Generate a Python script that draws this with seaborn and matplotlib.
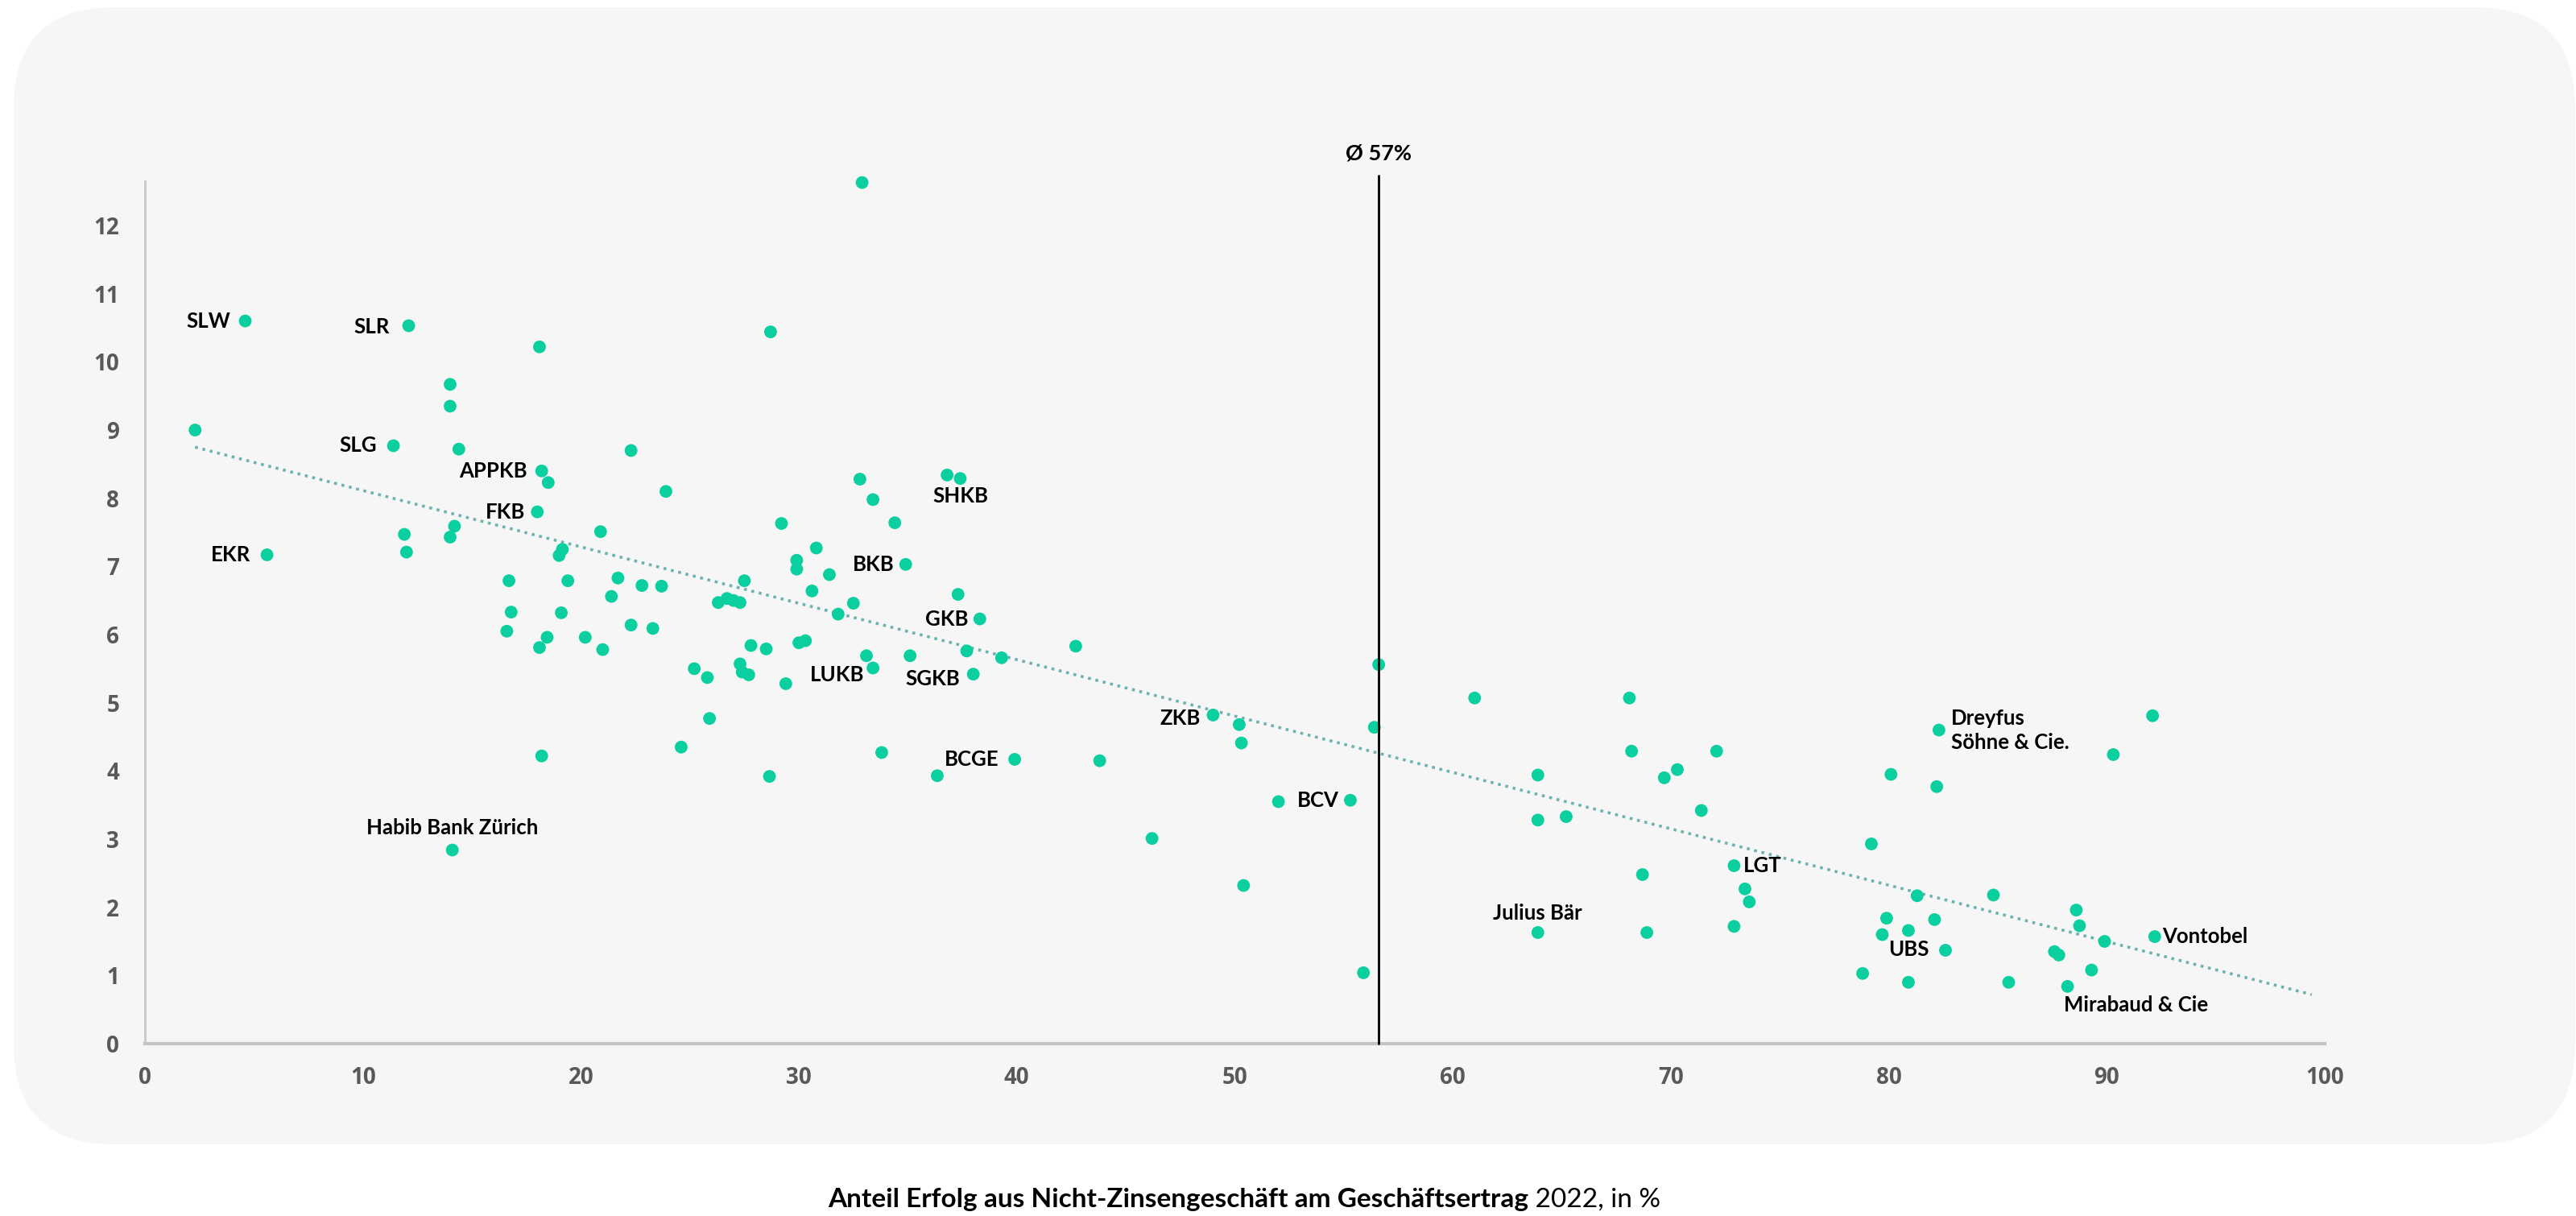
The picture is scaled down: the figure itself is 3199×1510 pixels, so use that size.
import numpy as np
import pandas as pd
import matplotlib
matplotlib.use("Agg")
import matplotlib.pyplot as plt
from matplotlib.patches import FancyBboxPatch
from matplotlib.transforms import IdentityTransform
import seaborn as sns

# share of non-interest income in operating income 2022, in %
share = [2.3, 4.6, 5.6, 11.4, 12.1, 11.9, 12.0, 14.0, 14.0, 14.4,
         14.0, 14.2, 14.1, 16.7, 16.8, 16.6, 18.0, 18.2, 18.5, 18.1,
         18.1, 18.45, 18.2, 19.0, 19.15, 19.1, 19.4, 20.2, 20.9, 21.0,
         21.4, 21.7, 22.3, 22.3, 22.8, 23.3, 23.7, 23.9, 24.6, 25.2,
         25.8, 25.9, 26.3, 26.7, 27.0, 27.3, 27.5, 27.3, 27.4, 27.7,
         27.8, 28.5, 28.65, 28.7, 29.2, 29.4, 29.9, 29.9, 30.0, 30.3,
         30.6, 30.8, 31.4, 31.8, 32.5, 32.8, 32.9, 33.1, 33.4, 33.4,
         33.8, 34.4, 34.9, 35.1, 36.35, 36.8, 37.4, 37.3, 37.7, 38.0,
         38.3, 39.3, 39.9, 42.7, 43.8, 46.2, 49.0, 50.2, 50.3, 50.4,
         52.0, 55.3, 55.9, 56.4, 56.6, 61.0, 63.9, 63.9, 63.9, 65.2,
         68.1, 68.2, 68.7, 68.9, 69.7, 70.3, 71.4, 72.1, 72.9, 72.9,
         73.4, 73.6, 78.8, 79.2, 79.7, 79.9, 80.1, 80.9, 80.9, 81.3,
         82.1, 82.2, 82.3, 82.6, 84.8, 85.5, 87.6, 87.8, 88.2, 88.6,
         88.75, 89.3, 89.9, 90.3, 92.1, 92.2]

metric = [9.00, 10.60, 7.17, 8.77, 10.53, 7.47, 7.21, 9.67, 9.35, 8.72,
          7.43, 7.59, 2.84, 6.79, 6.33, 6.05, 7.80, 8.40, 8.23, 10.22,
          5.81, 5.96, 4.22, 7.16, 7.25, 6.32, 6.79, 5.96, 7.51, 5.78,
          6.56, 6.83, 8.70, 6.14, 6.72, 6.09, 6.71, 8.10, 4.35, 5.50,
          5.37, 4.77, 6.47, 6.53, 6.50, 6.47, 6.79, 5.57, 5.45, 5.41,
          5.84, 5.79, 3.92, 10.44, 7.63, 5.28, 7.09, 6.96, 5.88, 5.91,
          6.64, 7.27, 6.88, 6.30, 6.46, 8.28, 12.63, 5.69, 7.98, 5.51,
          4.27, 7.64, 7.03, 5.69, 3.93, 8.34, 8.29, 6.59, 5.76, 5.42,
          6.23, 5.66, 4.17, 5.83, 4.15, 3.01, 4.82, 4.68, 4.41, 2.32,
          3.55, 3.57, 1.04, 4.64, 5.56, 5.07, 3.94, 3.28, 1.63, 3.33,
          5.07, 4.29, 2.48, 1.63, 3.90, 4.02, 3.42, 4.29, 2.61, 1.72,
          2.27, 2.08, 1.03, 2.93, 1.60, 1.84, 3.95, 1.66, 0.90, 2.17,
          1.82, 3.77, 4.60, 1.37, 2.18, 0.90, 1.35, 1.30, 0.84, 1.96,
          1.73, 1.08, 1.50, 4.24, 4.81, 1.57]

bank = [""] * len(share)
named = {1: "SLW", 2: "EKR", 3: "SLG", 4: "SLR", 12: "Habib Bank Zürich",
         16: "FKB", 17: "APPKB", 69: "LUKB", 72: "BKB", 76: "SHKB",
         79: "SGKB", 80: "GKB", 82: "BCGE", 86: "ZKB", 91: "BCV",
         98: "Julius Bär", 108: "LGT", 122: "Dreyfus\nSöhne & Cie.",
         123: "UBS", 128: "Mirabaud & Cie", 135: "Vontobel"}
for i, name in named.items():
    bank[i] = name

# trend line end points
trend_x = [2.3, 99.4]
trend_y = [8.75, 0.72]

avg_share = 56.6
avg_text = "Ø 57%"
x_ticks = list(range(0, 101, 10))
y_ticks = list(range(0, 13))
xlabel_bold = "Anteil Erfolg aus Nicht-Zinsengeschäft am Geschäftsertrag"
xlabel_rest = " 2022, in %"

df = pd.DataFrame({"share": share, "metric": metric, "bank": bank})

# label placement: (dx pt, dy pt, ha)
label_pos = {
    "SLW": (-13, 0, "right"), "SLR": (-17, -1, "right"), "SLG": (-15, 0, "right"),
    "EKR": (-15, 0, "right"), "APPKB": (-13, 0, "right"), "FKB": (-11, 0, "right"),
    "BKB": (-10, 0, "right"), "GKB": (-10, 0, "right"), "LUKB": (-8, -6, "right"),
    "SGKB": (-12, -4, "right"), "BCGE": (-14, 0, "right"), "ZKB": (-11, -3, "right"),
    "BCV": (-10, 0, "right"), "UBS": (-15, 1, "right"), "LGT": (8, 0, "left"),
    "Vontobel": (7, 0, "left"), "Dreyfus\nSöhne & Cie.": (11, 0, "left"),
    "Habib Bank Zürich": (0, 20, "center"), "Julius Bär": (0, 17, "center"),
    "SHKB": (0, -16, "center"), "Mirabaud & Cie": (-3, -17, "left"),
}

sns.set_theme(style="white")
plt.rcParams["font.family"] = ["Lato", "DejaVu Sans"]

W, H = 3199, 1510
fig = plt.figure(figsize=(W / 100, H / 100), dpi=100)
fig.patch.set_facecolor("white")

# rounded grey panel behind the chart
panel = FancyBboxPatch((17, 89), 3181, 1412, boxstyle="round,pad=0,rounding_size=125",
                       transform=IdentityTransform(), facecolor="#f6f6f6",
                       edgecolor="none", zorder=-5)
fig.patches.append(panel)

ax = fig.add_axes([180 / W, (H - 1296) / H, (2887 - 180) / W, (1296 - 225) / H])
ax.patch.set_alpha(0)
ax.set_zorder(1)

sns.scatterplot(data=df, x="share", y="metric", ax=ax, color="#0ccf9f",
                s=130, edgecolor="none", linewidth=0, legend=False, zorder=3,
                clip_on=False)

# linear trend (dotted)
ax.plot(trend_x, trend_y, ls=(0, (1, 1.6)), lw=2.6, color="#6db3b1", zorder=2)

# average line
ax.plot([avg_share, avg_share], [0, 12.73], color="black", lw=2, clip_on=False, zorder=4)
ax.text(avg_share, 13.06, avg_text, ha="center", va="center", fontsize=19.5,
        fontweight="bold", color="black", clip_on=False)

for _, row in df[df["bank"] != ""].iterrows():
    dx, dy, ha = label_pos[row["bank"]]
    ax.annotate(row["bank"], (row["share"], row["metric"]), xytext=(dx, dy),
                textcoords="offset points", ha=ha, va="center", fontsize=18.5,
                fontweight="bold", color="black", linespacing=1.3, zorder=5)

tick_font = dict(fontsize=20, fontweight="bold", color="#595959", family="Open Sans")
ax.set_xlim(0, 100)
ax.set_ylim(0, 12.65)
ax.set_xticks(x_ticks)
ax.set_xticklabels([str(t) for t in x_ticks], **tick_font)
ax.set_yticks(y_ticks)
ax.set_yticklabels([str(t) for t in y_ticks], **tick_font)
ax.set_xlabel("")
ax.set_ylabel("")
for side in ["top", "right"]:
    ax.spines[side].set_visible(False)
ax.spines["left"].set_color("#c8c8c8")
ax.spines["left"].set_linewidth(2)
ax.spines["bottom"].set_color("#c4c4c4")
ax.spines["bottom"].set_linewidth(3)
ax.tick_params(axis="both", length=8, width=1.5, color="#c8c8c8")
ax.tick_params(axis="y", pad=15)
ax.tick_params(axis="x", pad=12)

# x axis title: bold part + regular part, centred together
t1 = fig.text(0, 20 / H, xlabel_bold, fontsize=24, fontweight="bold",
              ha="left", va="center", color="black")
t2 = fig.text(0, 20 / H, xlabel_rest, fontsize=24, ha="left", va="center", color="black")
fig.canvas.draw()
r = fig.canvas.get_renderer()
w1 = t1.get_window_extent(r).width
w2 = t2.get_window_extent(r).width
x0 = 1545 - (w1 + w2) / 2
t1.set_x(x0 / W)
t2.set_x((x0 + w1) / W)

fig.savefig("out.png", dpi=100)
